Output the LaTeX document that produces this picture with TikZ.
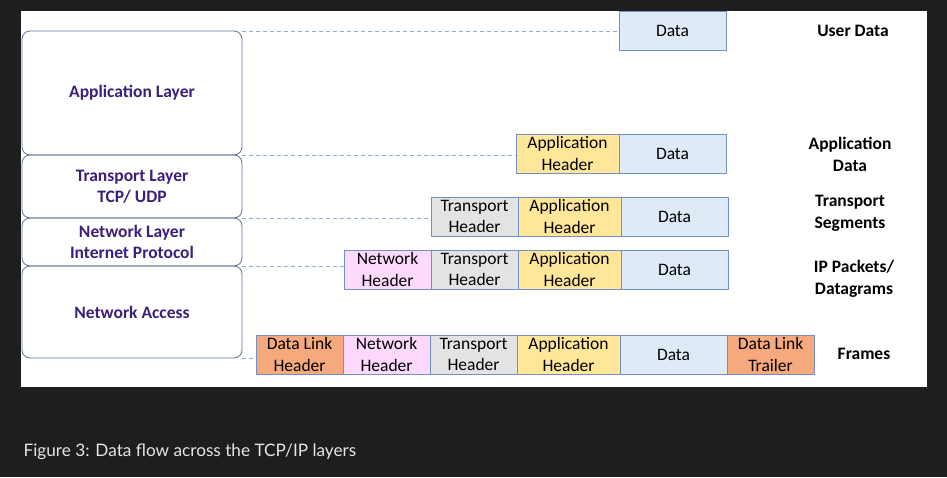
\documentclass[tikz,border=0pt]{standalone}
\usepackage{fontspec}
\setmainfont{Carlito}
\newfontfamily\capfont{Lato}
\usepackage{xcolor}
\usetikzlibrary{positioning}
\definecolor{pagebg}{HTML}{1D1E20}
\definecolor{layink}{HTML}{3B1F7A}
\definecolor{layline}{HTML}{5F7298}
\definecolor{cellline}{HTML}{7190C8}
\definecolor{dashblue}{HTML}{8EA9DB}
\definecolor{datafill}{HTML}{DEEBF7}
\definecolor{appfill}{HTML}{FFE699}
\definecolor{trfill}{HTML}{E3E3E3}
\definecolor{netfill}{HTML}{FDD9FD}
\definecolor{dlfill}{HTML}{F6A97C}

\begin{document}
\begin{tikzpicture}[x=1pt,y=-1pt,line join=round,
  layerbox/.style={draw=layline,line width=.8pt,rounded corners=8pt,
    minimum width=220pt,inner sep=0pt,outer sep=0pt,align=center,
    text=layink,font=\fontsize{17.5}{20.5}\selectfont\bfseries},
  cell/.style={draw=cellline,line width=.9pt,minimum height=39pt,
    inner sep=0pt,outer sep=0pt,align=center,
    font=\fontsize{17.5}{21.5}\selectfont},
  datacell/.style={cell,fill=datafill,minimum width=107pt},
  appcell/.style={cell,fill=appfill,minimum width=103pt},
  trcell/.style={cell,fill=trfill,minimum width=87pt},
  netcell/.style={cell,fill=netfill,minimum width=87pt},
  dlcell/.style={cell,fill=dlfill,minimum width=87pt},
  rowlabel/.style={align=center,font=\fontsize{17.5}{22}\selectfont\bfseries},
  guide/.style={draw=dashblue,line width=.8pt,dash pattern=on 4pt off 3pt}]
\useasboundingbox (0,0) rectangle (947,477);
\fill[pagebg] (0,0) rectangle (947,477);
\fill[white] (21,11) rectangle (927,387);

% Layer stack on the left.
\node[layerbox,minimum height=124pt,anchor=north west] (app) at (22,31) {Application Layer};
\node[layerbox,minimum height=63pt,anchor=north west] (trans) at (22,155) {Transport Layer\\TCP/ UDP};
\node[layerbox,minimum height=48pt,anchor=north west] (net) at (22,218) {Network Layer\\Internet Protocol};
\node[layerbox,minimum height=92pt,anchor=north west] (acc) at (22,266) {Network Access};

% Encapsulated units, one row per layer.
\node[datacell,anchor=north east] (d1) at (726,11) {Data};

\node[datacell,anchor=north east] (d2) at (726,134) {Data};
\node[appcell,left=0pt of d2] (ah2) {Application\\Header};

\node[datacell,anchor=north east] (d3) at (728,197) {Data};
\node[appcell,left=0pt of d3] (ah3) {Application\\Header};
\node[trcell,left=0pt of ah3] (th3) {Transport\\Header};

\node[datacell,anchor=north east] (d4) at (728,250) {Data};
\node[appcell,left=0pt of d4] (ah4) {Application\\Header};
\node[trcell,left=0pt of ah4] (th4) {Transport\\Header};
\node[netcell,left=0pt of th4] (nh4) {Network\\Header};

\node[dlcell,anchor=north west] (dt5) at (727,335) {Data Link\\Trailer};
\node[datacell,left=0pt of dt5] (d5) {Data};
\node[appcell,left=0pt of d5] (ah5) {Application\\Header};
\node[trcell,left=0pt of ah5] (th5) {Transport\\Header};
\node[netcell,left=0pt of th5] (nh5) {Network\\Header};
\node[dlcell,left=0pt of nh5] (dh5) {Data Link\\Header};

% Dashed guides from the layer edges.
\foreach \a/\b in {app.north east/d1,app.south east/ah2,trans.south east/th3,
                   net.south east/nh4,acc.south east/dh5}
  \draw[guide] (\a) -- (\a -| \b.west);

% Names of the units.
\node[rowlabel] (lud) at (853,31) {User Data};
\node[rowlabel] (lad) at (850,154) {Application\\Data};
\node[rowlabel] (lts) at (850,213) {Transport\\Segments};
\node[rowlabel] (lip) at (854,279) {IP Packets/\\Datagrams};
\node[rowlabel] (lfr) at (864,354) {Frames};

\node[anchor=west,text=white!90!black,font=\capfont\fontsize{17.2}{20}\selectfont] (cap)
  at (20,452) {Figure 3: Data flow across the TCP/IP layers};
\end{tikzpicture}
\end{document}
